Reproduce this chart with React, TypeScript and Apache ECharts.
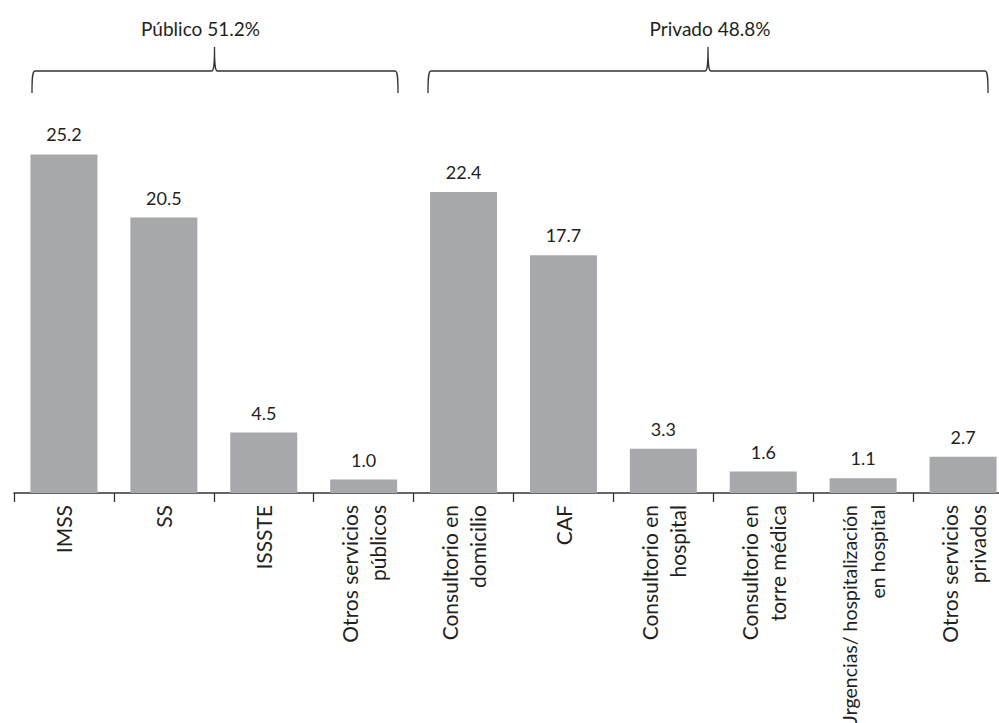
import React, { useEffect, useRef } from "react";
import * as echarts from "echarts";

const categories = [
  "IMSS",
  "SS",
  "ISSSTE",
  "Otros servicios\npúblicos",
  "Consultorio en\ndomicilio",
  "CAF",
  "Consultorio en\nhospital",
  "Consultorio en\ntorre médica",
  "Urgencias/ hospitalización\nen hospital",
  "Otros servicios\nprivados",
];
const values = [25.2, 20.5, 4.5, 1.0, 22.4, 17.7, 3.3, 1.6, 1.1, 2.7];
const groupLabels = ["Público 51.2%", "Privado 48.8%"];

const FONT = "Lato, 'Open Sans', sans-serif";
const INK = "#231f20";

function bracketPath(x1: number, x2: number, xm: number, yTop: number, yBot: number, ySpike: number) {
  return [
    `M ${x1} ${yBot}`,
    `C ${x1} ${yTop + 9} ${x1} ${yTop} ${x1 + 3} ${yTop}`,
    `L ${xm - 3} ${yTop}`,
    `C ${xm - 1} ${yTop} ${xm} ${yTop - 3} ${xm} ${ySpike}`,
    `C ${xm} ${yTop - 3} ${xm + 1} ${yTop} ${xm + 3} ${yTop}`,
    `L ${x2 - 3} ${yTop}`,
    `C ${x2} ${yTop} ${x2} ${yTop + 9} ${x2} ${yBot}`,
  ].join(" ");
}

let registered = false;
function registerBrackets() {
  if (registered) return;
  registered = true;
  echarts.graphic.registerShape(
    "bracketPub",
    echarts.graphic.extendPath(bracketPath(32, 398, 214.5, 71, 93, 47), {})
  );
  echarts.graphic.registerShape(
    "bracketPriv",
    echarts.graphic.extendPath(bracketPath(428, 988, 708, 71, 93, 47), {})
  );
}

export default function App() {
  const ref = useRef<HTMLDivElement>(null);
  useEffect(() => {
    if (!ref.current) return;
    registerBrackets();
    const chart = echarts.init(ref.current, undefined, { renderer: "svg" });
    const bracketStyle = { stroke: "#333", fill: "none", lineWidth: 1.3 };
    const catData = categories.map((c) =>
      c.length > 30 ? { value: c, textStyle: { fontSize: 19.5 } } : c
    );
    chart.setOption({
      animation: false,
      backgroundColor: "#ffffff",
      grid: {
        left: 14,
        right: -14,
        top: 90,
        bottom: 230,
        containLabel: false,
        outerBoundsMode: "none",
      },
      xAxis: {
        type: "category",
        data: catData,
        boundaryGap: true,
        axisLine: { show: true, lineStyle: { color: "#333", width: 1.5 } },
        axisTick: { show: true, length: 9, lineStyle: { color: "#333", width: 1.3 } },
        axisLabel: {
          interval: 0,
          rotate: 90,
          margin: 12,
          fontFamily: FONT,
          fontSize: 21,
          lineHeight: 28,
          color: INK,
          align: "right",
          verticalAlign: "middle",
        },
      },
      yAxis: {
        type: "value",
        min: 0,
        max: 30,
        show: false,
        splitLine: { show: false },
      },
      series: [
        {
          type: "bar",
          data: values,
          barWidth: 67,
          itemStyle: { color: "#a7a8ab" },
          label: {
            show: true,
            position: "top",
            distance: 11,
            fontFamily: FONT,
            fontSize: 18,
            color: INK,
            formatter: (p: any) => Number(p.value).toFixed(1),
          },
        },
      ],
      graphic: [
        { type: "bracketPub", x: 0, y: 0, style: bracketStyle, silent: true },
        { type: "bracketPriv", x: 0, y: 0, style: bracketStyle, silent: true },
        {
          type: "text",
          x: 200.5,
          y: 28,
          style: {
            text: groupLabels[0],
            font: `19px ${FONT}`,
            fill: INK,
            textAlign: "center",
            textVerticalAlign: "middle",
          },
        },
        {
          type: "text",
          x: 710,
          y: 28,
          style: {
            text: groupLabels[1],
            font: `19px ${FONT}`,
            fill: INK,
            textAlign: "center",
            textVerticalAlign: "middle",
          },
        },
      ],
    });
    return () => chart.dispose();
  }, []);
  return (
    <div
      ref={ref}
      style={{ position: "fixed", left: 0, top: 0, width: 999, height: 723, background: "#fff" }}
    />
  );
}
